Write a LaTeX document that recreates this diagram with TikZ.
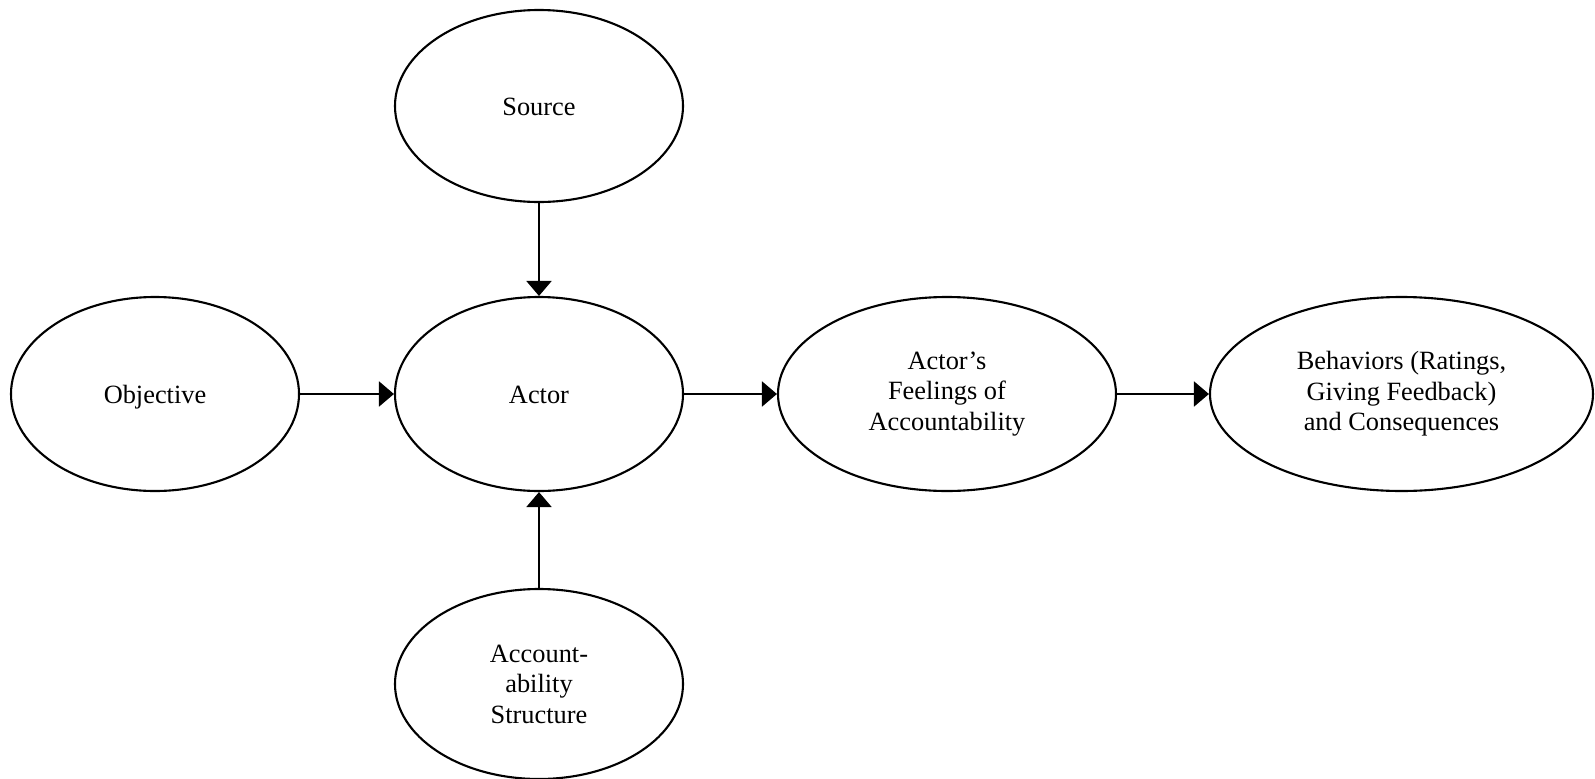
\documentclass[tikz,border=0pt]{standalone}
\usepackage{fontspec}
\setmainfont{Liberation Serif}
\usetikzlibrary{shapes.geometric, arrows.meta}

\begin{document}
\begin{tikzpicture}[font=\fontsize{7.5}{8.7}\selectfont,
  oval/.style={draw, ellipse, line width=0.6pt, inner sep=0pt, align=center,
    minimum width=2.88cm, minimum height=1.94cm},
  word/.style={text height=0.72em, text depth=0.18em},
  flow/.style={line width=0.6pt, -{Triangle[length=0.15cm, width=0.25cm]}}]
  % page size as in the original figure
  \useasboundingbox (0,0) rectangle (15.95,-7.79);

  % middle column: Source above, Actor, Accountability Structure below
  \node[oval, word, minimum height=1.92cm] (source) at (5.39,-1.06) {Source};
  \node[oval, word] (actor) at (5.39,-3.94) {Actor};
  \node[oval, minimum height=1.90cm] (structure) at (5.39,-6.84) {Account-\\ability\\Structure};

  % row through the Actor
  \node[oval, word] (objective) at (1.55,-3.94) {Objective};
  \node[oval, minimum width=3.38cm] (feelings) at (9.47,-3.94) {Actor's\\Feelings of\\Accountability};
  \node[oval, minimum width=3.83cm] (behaviors) at (14.015,-3.94) {Behaviors (Ratings,\\Giving Feedback)\\and Consequences};

  % arrows
  \draw[flow] (source) -- (actor);
  \draw[flow] (structure) -- (actor);
  \draw[flow] (objective) -- (actor);
  \draw[flow] (actor) -- (feelings);
  \draw[flow] (feelings) -- (behaviors);
\end{tikzpicture}
\end{document}
